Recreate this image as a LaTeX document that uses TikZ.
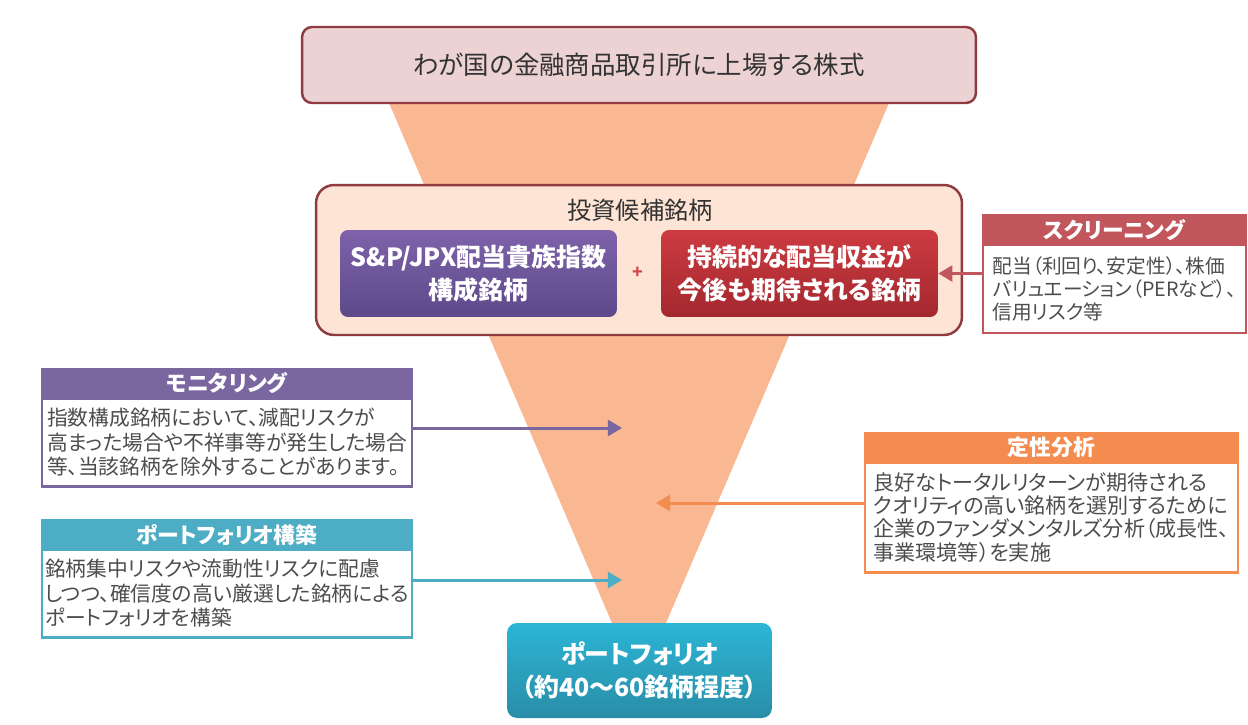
\documentclass[tikz,border=0pt]{standalone}
\usepackage{fontspec}
\setmainfont{Noto Sans CJK JP}[RawFeature=+palt]
\usepackage{xcolor}
\usetikzlibrary{positioning, arrows.meta}

\definecolor{funnel}{HTML}{F9B891}
\definecolor{boxline}{HTML}{8F3B41}
\definecolor{topfill}{HTML}{EDD2D4}
\definecolor{candfill}{HTML}{FDE4D5}
\definecolor{sptop}{HTML}{7E62AA}
\definecolor{spbot}{HTML}{5D4A8A}
\definecolor{divtop}{HTML}{CC3B41}
\definecolor{divbot}{HTML}{A3282E}
\definecolor{plus}{HTML}{D5484E}
\definecolor{scr}{HTML}{C1575C}
\definecolor{mon}{HTML}{7A67A0}
\definecolor{pfb}{HTML}{4DADC4}
\definecolor{qual}{HTML}{F48B4F}
\definecolor{porttop}{HTML}{2BB5D5}
\definecolor{portbot}{HTML}{2A8DA7}
\definecolor{bodytext}{HTML}{4D4D4D}
\definecolor{titletext}{HTML}{333333}

\begin{document}
\begin{tikzpicture}[x=0.02cm, y=-0.02cm,
    >={Triangle[length=8pt,width=9pt]},
    bigbox/.style={draw=boxline, line width=1.4pt},
    inner/.style={rounded corners=0.16cm, text=white, align=center,
        font=\fontsize{14.2}{18.7}\selectfont\bfseries},
    head/.style={fill=#1, draw=#1, line width=1pt, text=white,
        minimum height=0.6cm, inner sep=0pt, outer sep=0pt,
        font=\fontsize{12.4}{14}\selectfont\bfseries},
    body/.style={draw=#1, line width=1.2pt, fill=white, text=bodytext,
        align=left, inner sep=0pt, outer sep=0pt, minimum height=1.76cm,
        font=\fontsize{11.8}{13.9}\selectfont},
    feed/.style={->, line width=1.7pt, #1}]

    \useasboundingbox (0,0) rectangle (1248,724);

    % funnel
    \fill[funnel] (389,103) -- (889,103) -- (663,630) -- (615,630) -- cycle;

    \node[bigbox, fill=topfill, rounded corners=0.2cm,
        minimum width=13.48cm, minimum height=1.52cm,
        text=titletext, font=\fontsize{14.5}{17}\selectfont]
        (market) at (639,65) {わが国の金融商品取引所に上場する株式};

    \node[bigbox, fill=candfill, rounded corners=0.36cm,
        minimum width=12.92cm, minimum height=3cm]
        (cand) at (639,260) {};
    \node[text=titletext, font=\fontsize{13.8}{16}\selectfont]
        (candtitle) at (640,210) {投資候補銘柄};
    \node[inner, top color=sptop, bottom color=spbot,
        minimum width=5.54cm, minimum height=1.74cm]
        (sp) at (478.5,273.5) {S\&P/JPX配当貴族指数\\構成銘柄};
    \node[inner, top color=divtop, bottom color=divbot,
        minimum width=5.54cm, minimum height=1.74cm]
        (div) at (799.5,273.5) {持続的な配当収益が\\今後も期待される銘柄};
    \node[text=plus, font=\bfseries] (plus) at (638,273) {+};

    % screening
    \node[head=scr, minimum width=5.26cm] (scrhead) at (1114.5,230) {スクリーニング};
    \node[body=scr, minimum width=5.26cm, below=0pt of scrhead,
        font=\fontsize{11.2}{13}\selectfont]
        (scrbody) {配当（利回り、安定性）、株価\\バリュエーション（PERなど）、\\信用リスク等};

    % monitoring
    \node[head=mon, minimum width=7.4cm] (monhead) at (227,383.5) {モニタリング};
    \node[body=mon, minimum width=7.4cm, below=0pt of monhead]
        (monbody) {指数構成銘柄において、減配リスクが\\高まった場合や不祥事等が発生した場合\\等、当該銘柄を除外することがあります。};

    % portfolio construction
    \node[head=pfb, minimum width=7.4cm] (pfhead) at (227,534.5) {ポートフォリオ構築};
    \node[body=pfb, minimum width=7.4cm, below=0pt of pfhead]
        (pfbody) {銘柄集中リスクや流動性リスクに配慮\\しつつ、確信度の高い厳選した銘柄による\\ポートフォリオを構築};

    % qualitative analysis
    \node[head=qual, minimum width=7.46cm] (qualhead) at (1051.5,447.5) {定性分析};
    \node[body=qual, minimum width=7.46cm, minimum height=2.2cm,
        below=0pt of qualhead, font=\fontsize{12}{13.2}\selectfont]
        (qualbody) {良好なトータルリターンが期待される\\クオリティの高い銘柄を選別するために\\企業のファンダメンタルズ分析（成長性、\\事業環境等）を実施};

    \node[inner, top color=porttop, bottom color=portbot,
        rounded corners=0.2cm, minimum width=5.3cm, minimum height=1.9cm]
        (port) at (639.5,670.5) {ポートフォリオ\\（約40～60銘柄程度）};

    \coordinate (montip) at (622,428);
    \coordinate (pftip) at (622,580);
    \coordinate (qualtip) at (656,503);

    \draw[feed=mon] (montip -| monbody.east) -- (montip);
    \draw[feed=pfb] (pftip -| pfbody.east) -- (pftip);
    \draw[feed=qual] (qualtip -| qualbody.west) -- (qualtip);
    \draw[feed=scr] (scrbody.west |- div.east) -- (div.east);
\end{tikzpicture}
\end{document}
